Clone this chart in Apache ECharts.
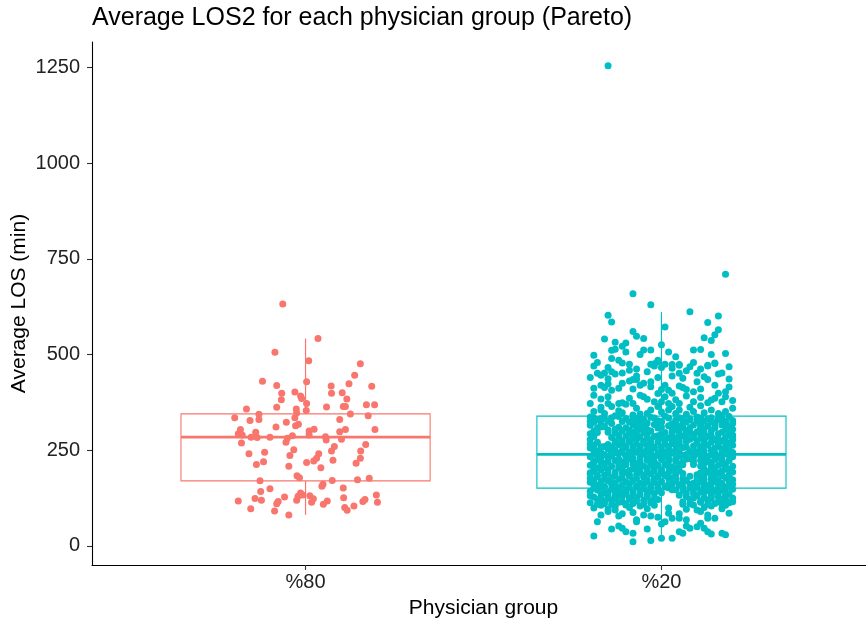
<!DOCTYPE html>
<html>
<head>
<meta charset="utf-8">
<script src="https://cdn.jsdelivr.net/npm/echarts@6/dist/echarts.min.js"></script>
<style>
html,body{margin:0;padding:0;background:#fff;}
#chart{width:866px;height:623px;}
</style>
</head>
<body>
<div id="chart"></div>
<script>
// ---------- data ----------
const groups = ['%80', '%20'];
const groupColors = ['#F8766D', '#00BFC4'];
const yTicks = [0, 250, 500, 750, 1000, 1250];
// box statistics: [group position, lower whisker, Q1, median, Q3, upper whisker]
const box80 = [1, 81, 170, 284, 345, 542];
const box20 = [2, 14, 151, 239, 339, 611];
// jittered points: [jitter (hundredths of a category), LOS value]
const p80 = [
[-6.4,632],[3.5,542],[-8.6,506],[0.9,484],[15.4,476],[13.8,446],[-12.1,430],[0.3,429],[-8.1,419],[12.2,424],[7.2,418],[18.6,417],[-6.7,399],[-3.0,402],[-1.4,392],[7.3,399],[10.3,400],[-6.8,382],[-1.1,385],[11.6,384],[0.3,372],[-8.1,362],[-16.6,358],[-2.6,358],[5.9,363],[10.6,364],[11.2,364],[17.1,369],[19.4,369],[0.2,354],
[-19.9,335],[-13.1,344],[-13.1,330],[-15.6,328],[-2.5,347],[-3.0,335],[-5.4,323],[-2.0,318],[-2.8,314],[-8.3,311],[9.6,330],[12.6,345],[17.6,340],[-18.3,304],[-18.9,293],[-17.8,290],[-14.0,297],[-15.3,284],[-13.6,283],[-10.0,284],[-5.1,281],[-5.5,271],[-3.7,288],[1.0,300],[2.4,305],[1.0,290],[5.6,285],[9.6,298],[11.2,304],[10.1,279],[19.5,304],
[-18.0,269],[5.8,277],[-3.3,251],[-11.5,245],[-15.9,241],[8.1,260],[7.3,248],[16.9,265],[15.5,248],[-4.4,236],[3.7,241],[15.4,229],[-11.8,220],[-13.8,213],[0.3,218],[2.3,222],[3.1,229],[7.7,224],[14.2,216],[-4.7,208],[4.3,204],[-2.4,183],[-1.7,178],[-12.8,170],[7.5,171],[14.6,173],[17.9,177],[4.9,161],[4.6,156],[-10.0,149],[-12.6,142],[10.6,151],[19.9,133],
[-1.4,138],[-0.8,133],[-2.1,130],[-2.5,119],[1.2,131],[2.2,123],[1.7,114],[-5.9,128],[10.7,126],[-18.9,117],[-14.2,124],[-12.4,119],[-7.7,116],[-8.1,110],[6.1,117],[5.0,109],[16.1,116],[16.7,121],[20.2,114],[13.6,104],[11.0,100],[11.7,93],[-15.4,97],[-8.7,91],[-4.7,81]
];
const p20 = [
[-15,1255],[18,710],[-8,659],[-3,630],[8,612],[-15,603],[-14,585],[16,601],[13,584],[1,572],[16,565],[-8,560],[15,552],[-7,548],[-5,542],[-16,541],[12,544],[14,537],[-13,532],[-14,511],[-13,514],[-10,530],[-11,522],[0,526],[-5,512],[-6,500],[-3,512],[9,512],[11,513],[-10,507],[2,507],[-19,498],[14,500],[18,503],[4,494],[-14,490],[-12,485],[-18,479],[-1,485],[-2,476],[9,479],[3,474],[5,474],[13,472],[15,478],
[-11,478],[-9,475],[-18,451],[-17,446],[-16,452],[-14,455],[-13,449],[-11,452],[-9,459],[-4,455],[-3,475],[-2,470],[-1,481],[1,475],[3,464],[5,472],[5,451],[3,444],[8,468],[10,451],[10,429],[13,470],[15,477],[16,449],[17,452],[13,435],
[-19,470],[-15,466],[-7,462],[0,466],[7,458],[11,462],[19,468],[-20,440],[-15,437],[-7,444],[-1,440],[6,438],[12,442],[19,436],
[-17,420],[-16,414],[-15,423],[-14,407],[-11,425],[-9,431],[-8,435],[-7,435],[-6,420],[-5,425],[-3,416],[-3,429],[1,420],[2,407],[3,399],[5,418],[7,409],[9,403],
[-12,412],[-8,410],[0,409],[6,414],[11,410],[15,420],[19,415],[-19,412],
[-19,394],[-20,372],[-15,390],[-15,372],[-14,364],[-12,372],[-11,374],[-10,370],[-8,372],[-6,394],[-5,390],[-4,383],[-2,377],[0,377],[1,390],[2,372],[3,364],[5,372],[9,377],[11,388],[13,374],[14,381],[16,399],[18,403],[18,390],[17,377],
[-17,384],[-9,386],[-1,398],[4,382],[7,392],[15,386],[20,380],[-17,362],[-7,360],[-1,364],[8,362],[11,366],[20,360],
[-19,351],[-17,355],[-16,346],[-12,353],[-11,348],[-8,342],[-4,346],[-3,355],[2,355],[4,346],[5,355],[9,351],[12,348],[14,355],[16,346],[18,351],
[-13,340],[-6,345],[0,350],[7,344],[17,341],
[-20,337],[-17,333],[-12,338],[-8,334],[-3,336],[1,339],[6,333],[10,337],[14,335],[19,338],
[-19,334],[-14,335],[-7,333],[-2,334],[5,335],[11,334],[16,333],
[-16,332],[-10,333],[-5,331],[2,334],[8,330],[13,332],[17,331],
[-18,330],[-15,326],[-6,331],[-1,327],[4,329],[8,332],[12,326],[16,330],[20,328],
[-20,326],[-11,325],[-7,327],[0,326],[6,324],[10,327],[14,325],[18,326],
[-19,323],[-14,320],[-9,324],[-4,321],[0,323],[3,319],[7,324],[11,321],[15,322],[18,319],
[-17,318],[-6,319],[-1,320],[4,318],[11,317],[15,319],[20,320],
[-20,315],[-16,312],[-8,316],[-5,313],[-2,317],[2,314],[6,311],[9,316],[13,313],[17,316],[19,311],
[-17,311],[-12,310],[-7,312],[0,311],[5,312],[11,310],[15,311],
[-18,308],[-13,305],[-10,309],[-6,306],[-1,308],[4,304],[8,309],[12,306],[15,308],[20,305],
[-15,303],[-9,302],[-4,304],[3,303],[7,301],[11,304],[18,302],
[-19,300],[-15,297],[-11,301],[-7,298],[-3,300],[1,296],[5,301],[10,298],[14,300],[17,297],
[-18,296],[-13,295],[-8,297],[-5,296],[3,295],[8,297],[12,295],[19,296],
[-20,293],[-12,290],[-9,294],[-4,291],[0,293],[3,289],[7,294],[11,291],[16,293],[19,290],
[-7,290],[-1,288],[5,289],[9,291],[14,288],[20,290],
[-19,286],[-14,283],[-10,287],[-6,284],[-2,286],[2,282],[6,287],[9,284],[13,286],[18,283],
[-12,281],[-8,280],[-4,282],[0,281],[4,280],[7,282],[11,281],[16,280],[20,281],
[-20,278],[-11,275],[-7,279],[-3,276],[1,278],[5,274],[8,279],[12,276],[15,278],[17,274],[20,277],
[-13,273],[-9,275],[-5,273],[3,275],[10,274],[18,273],
[-18,271],[-13,268],[-9,272],[-5,269],[-1,271],[3,267],[7,272],[10,269],[14,271],[19,268],
[-20,266],[-15,265],[-11,267],[-7,266],[-3,265],[1,267],[5,266],[12,265],[16,267],
[-19,263],[-16,260],[-12,264],[-8,261],[-4,263],[0,259],[4,264],[9,261],[13,263],[16,260],[20,263],
[-17,259],[-14,258],[-10,260],[-6,259],[-2,258],[2,260],[7,258],[11,259],[18,260],
[-20,256],[-15,253],[-10,257],[-6,254],[-2,256],[2,252],[6,257],[11,254],[15,256],[18,253],
[-19,251],[-13,250],[-8,252],[-4,251],[0,250],[4,252],[9,251],[14,250],[17,252],
[-18,248],[-14,245],[-11,249],[-7,246],[-3,248],[1,244],[5,249],[8,246],[12,248],[17,245],[19,249],
[-17,244],[-13,243],[-9,245],[-5,244],[-1,243],[3,245],[10,244],[15,243],[20,244],
[-19,241],[-16,238],[-12,242],[-9,239],[-5,241],[-1,237],[3,242],[7,239],[10,241],[14,238],[18,241],
[-18,236],[-14,235],[-10,237],[-3,236],[1,235],[6,237],[11,236],[15,235],[19,237],
[-20,233],[-15,230],[-10,234],[-6,231],[-2,233],[2,229],[5,234],[9,231],[13,233],[16,230],[20,233],
[-17,228],[-12,227],[-8,229],[-4,228],[0,230],[4,227],[8,228],[12,230],[17,228],
[-18,226],[-13,223],[-9,227],[-4,224],[0,226],[4,222],[7,227],[11,224],[15,226],[19,223],
[-19,221],[-15,220],[-10,222],[-6,221],[-2,220],[2,222],[9,221],[13,220],[17,222],
[-19,218],[-16,215],[-11,219],[-7,216],[-3,218],[1,214],[6,219],[12,216],[14,218],[17,215],
[-17,213],[-12,212],[-8,214],[-3,213],[1,212],[5,214],[9,213],[14,212],[18,214],
[-20,211],[-14,208],[-10,212],[-5,209],[-1,211],[3,207],[6,212],[11,209],[16,211],[20,208],
[-19,206],[-16,205],[-11,207],[-6,206],[-2,205],[2,207],[14,206],[18,205],
[-18,203],[-15,200],[-12,204],[-8,201],[-4,203],[0,199],[4,204],[12,201],[15,203],[18,200],
[-17,198],[-11,197],[-7,199],[-4,198],[0,197],[3,199],[15,197],[19,199],
[-19,196],[-13,193],[-9,197],[-6,194],[-2,196],[2,192],[5,197],[13,194],[17,196],[20,193],
[-20,191],[-15,190],[-10,192],[-4,191],[0,190],[4,192],[11,191],[16,190],
[-20,188],[-16,185],[-11,189],[-7,186],[-3,188],[1,184],[6,189],[10,186],[14,188],[19,185],
[-18,184],[-13,183],[-9,185],[-5,184],[-1,183],[4,185],[12,184],[17,183],
[-18,181],[-14,178],[-9,182],[-5,179],[-1,181],[3,177],[8,182],[11,179],[15,181],[18,178],
[-20,176],[-16,175],[-11,177],[-7,176],[-2,175],[2,177],[6,176],[10,175],[14,177],[19,176],
[-19,173],[-15,170],[-12,174],[-8,171],[-4,173],[0,169],[4,174],[7,171],[12,173],[16,170],[20,173],
[-17,168],[-14,167],[-8,169],[-4,168],[0,167],[4,169],[11,168],[15,167],[19,169],
[-20,166],[-13,163],[-10,167],[-6,164],[-2,166],[2,162],[6,167],[9,164],[14,166],[17,163],
[-19,161],[-14,160],[-9,162],[-5,161],[-1,160],[3,162],[8,161],[12,160],[16,162],[20,161],
[-18,158],[-16,155],[-11,159],[-7,156],[-3,158],[1,154],[5,159],[10,156],[13,158],[19,155],
[-17,153],[-12,152],[-7,154],[-3,153],[2,152],[6,154],[10,153],[14,152],[18,154],
[-19,151],[-14,148],[-9,152],[-5,149],[-1,151],[4,147],[8,152],[12,149],[16,151],[20,148],
[-18,146],[-13,145],[-10,147],[-6,146],[-1,145],[3,147],[9,146],[13,145],[17,147],
[-20,143],[-15,140],[-12,144],[-8,141],[-3,143],[0,139],[6,144],[11,141],[15,143],[18,140],
[-16,138],[-11,139],[-8,138],[-4,140],[7,139],[12,140],[16,138],
[-17,136],[-13,133],[-10,137],[-6,134],[-2,136],[5,132],[9,137],[14,134],[19,136],
[-20,131],[-15,130],[-12,132],[-8,131],[-4,130],[10,131],[14,130],[18,132],
[-19,128],[-15,125],[-11,129],[-7,126],[-4,128],[7,129],[12,126],[16,128],[20,125],
[-17,124],[-13,123],[-9,125],[-2,124],[9,125],[14,124],[18,123],
[-18,121],[-14,118],[-9,122],[-5,119],[-1,121],[8,122],[13,119],[17,121],
[-16,116],[-11,115],[-7,117],[-3,116],[6,115],[11,117],[16,116],[20,115],
[-20,113],[-16,110],[-12,114],[-8,111],[-3,113],[6,109],[11,114],[15,111],[19,113],
[-18,109],[-14,108],[-10,110],[-5,109],[8,110],[13,109],[17,108],
[-17,106],[-13,103],[-10,107],[-6,104],[-2,106],[9,107],[14,104],[18,106],
[-19,99],[-15,96],[-9,100],[-4,97],[2,99],[7,96],[12,100],[17,97],
[-17,81],[-15,90],[-13,94],[-12,78],[-11,84],[-8,87],[-7,68],[-5,81],[-3,78],[-1,75],[2,85],[3,72],[5,84],[5,72],[7,68],[10,94],[11,90],[13,81],[15,72],[19,85],
[-18,63],[-14,44],[-12,52],[-11,46],[-10,37],[-8,33],[-7,63],[-4,44],[0,57],[1,63],[5,37],[7,52],[8,46],[10,50],[11,59],[12,46],[13,37],[13,72],[14,31],[17,33],
[-19,26],[-8,11],[-3,14],[0,20],[3,20],[6,33],[18,29]
];

// ---------- chart ----------
const FONT = '"Liberation Sans", Arial, sans-serif';
const BOX_HALF = 0.35;
function toPoints(arr, pos) { return arr.map(p => [pos + p[0] / 100, p[1]]); }

const chart = echarts.init(document.getElementById('chart'), null, {renderer: 'canvas'});
chart.setOption({
  animation: false,
  backgroundColor: '#ffffff',
  textStyle: {fontFamily: FONT},
  title: {
    text: 'Average LOS2 for each physician group (Pareto)',
    left: 92, top: 6, padding: 0,
    textStyle: {fontSize: 25, fontWeight: 'normal', color: '#000', fontFamily: FONT}
  },
  grid: {left: 92, right: -9, top: 42, bottom: 58, containLabel: false, outerBoundsMode: 'none'},
  xAxis: {
    type: 'value', min: 0.4, max: 2.6,
    name: 'Physician group', nameLocation: 'middle', nameGap: 33,
    nameTextStyle: {fontSize: 21, color: '#000', fontFamily: FONT},
    axisLine: {show: true, onZero: false, lineStyle: {color: '#000', width: 1.1}},
    axisTick: {show: true, customValues: [1, 2], length: 5, lineStyle: {color: '#333', width: 1.1}},
    axisLabel: {show: true, customValues: [1, 2], formatter: v => groups[Math.round(v) - 1], fontSize: 20, color: '#222', margin: 7, fontFamily: FONT},
    splitLine: {show: false}
  },
  yAxis: {
    type: 'value', min: -50, max: 1317,
    name: 'Average LOS (min)', nameLocation: 'middle', nameGap: 62, nameRotate: 90,
    nameMoveOverlap: false,
    nameTextStyle: {fontSize: 21, color: '#000', fontFamily: FONT},
    axisLine: {show: true, onZero: false, lineStyle: {color: '#000', width: 1.1}},
    axisTick: {show: true, customValues: yTicks, length: 5, lineStyle: {color: '#333', width: 1.1}},
    axisLabel: {show: true, customValues: yTicks, formatter: v => String(v), fontSize: 20, color: '#222', margin: 12, fontFamily: FONT},
    splitLine: {show: false}
  },
  series: [
    {
      type: 'custom', z: 1,
      data: [box80, box20],
      encode: {x: 0, y: [1, 2, 3, 4, 5]},
      renderItem: function (params, api) {
        const x = api.value(0), lo = api.value(1), q1 = api.value(2), md = api.value(3), q3 = api.value(4), hi = api.value(5);
        const color = groupColors[params.dataIndex];
        const tl = api.coord([x - BOX_HALF, q3]);
        const br = api.coord([x + BOX_HALF, q1]);
        const wTop = api.coord([x, hi]), hTop = api.coord([x, q3]);
        const hBot = api.coord([x, q1]), wBot = api.coord([x, lo]);
        const m1 = api.coord([x - BOX_HALF, md]), m2 = api.coord([x + BOX_HALF, md]);
        const lw = 1.2, mw = 2.7;
        return {
          type: 'group',
          children: [
            {type: 'rect', shape: {x: wTop[0] - lw / 2, y: wTop[1], width: lw, height: hTop[1] - wTop[1]}, style: {fill: color, stroke: null}},
            {type: 'rect', shape: {x: hBot[0] - lw / 2, y: hBot[1], width: lw, height: wBot[1] - hBot[1]}, style: {fill: color, stroke: null}},
            {type: 'rect', shape: {x: tl[0], y: tl[1], width: br[0] - tl[0], height: br[1] - tl[1]}, style: {stroke: color, fill: '#fff', lineWidth: 1.1}},
            {type: 'rect', shape: {x: m1[0], y: m1[1] - mw / 2, width: m2[0] - m1[0], height: mw}, style: {fill: color, stroke: null}}
          ]
        };
      }
    },
    {
      type: 'scatter', z: 2, name: groups[0],
      data: toPoints(p80, 1),
      symbol: 'circle', symbolSize: 7,
      itemStyle: {color: groupColors[0], opacity: 1},
      emphasis: {disabled: true}
    },
    {
      type: 'scatter', z: 2, name: groups[1],
      data: toPoints(p20, 2),
      symbol: 'circle', symbolSize: 7,
      itemStyle: {color: groupColors[1], opacity: 1},
      emphasis: {disabled: true}
    }
  ]
});
</script>
</body>
</html>
